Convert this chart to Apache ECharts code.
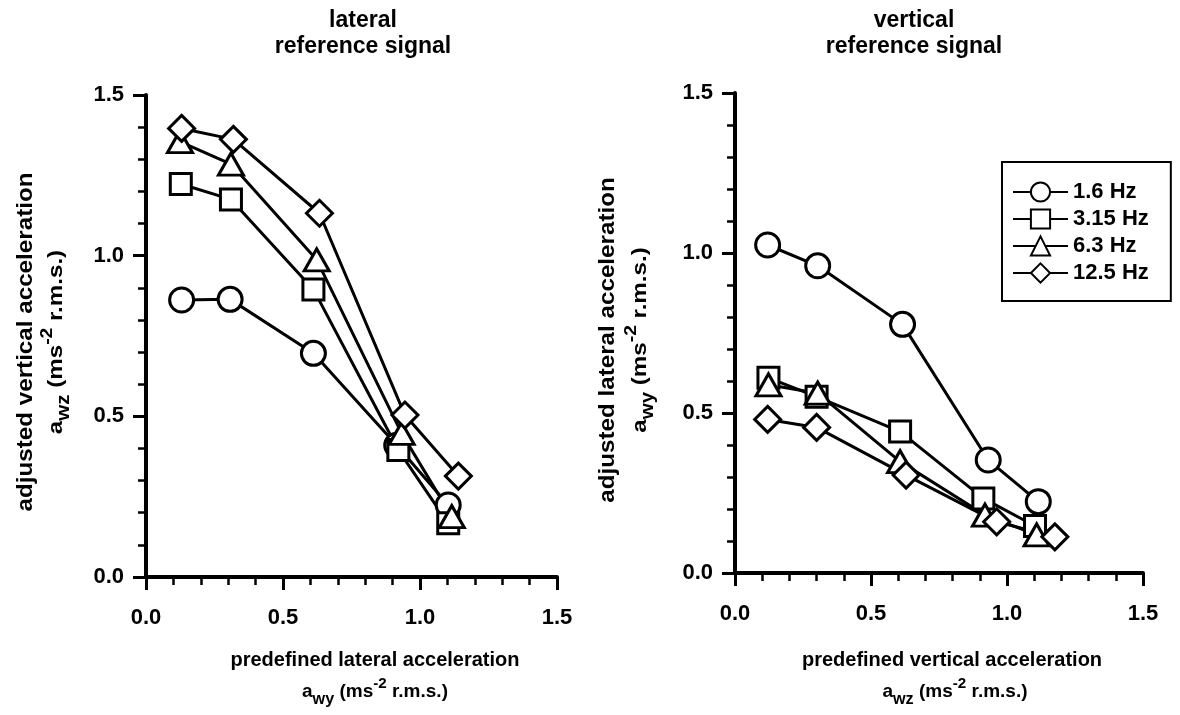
<!DOCTYPE html>
<html>
<head>
<meta charset="utf-8">
<script src="https://cdn.jsdelivr.net/npm/echarts@6/dist/echarts.min.js"></script>
<style>
  html, body { margin: 0; padding: 0; background: #fff; }
  #main { width: 1180px; height: 715px; }
</style>
</head>
<body>
<div id="main"></div>
<script>
// frequencies of the reference signal
var freqs = ['1.6 Hz', '3.15 Hz', '6.3 Hz', '12.5 Hz']
var symbols = ['circle', 'rect', 'triangle', 'diamond']
var symbolSizes = [24, 21, [25, 22], 26]
var axisTicks = [0, 0.5, 1.0, 1.5]

// lateral reference signal (left panel): predefined a_wy vs adjusted a_wz
var latX16 = [0.13, 0.307, 0.611, 0.915, 1.103]
var latY16 = [0.862, 0.864, 0.696, 0.41, 0.224]
var latX315 = [0.127, 0.31, 0.611, 0.921, 1.103]
var latY315 = [1.223, 1.175, 0.895, 0.395, 0.167]
var latX63 = [0.124, 0.31, 0.623, 0.933, 1.116]
var latY63 = [1.355, 1.285, 0.987, 0.447, 0.188]
var latX125 = [0.13, 0.319, 0.633, 0.945, 1.14]
var latY125 = [1.396, 1.362, 1.132, 0.504, 0.314]

// vertical reference signal (right panel): predefined a_wz vs adjusted a_wy
var verX16 = [0.12, 0.304, 0.616, 0.931, 1.115]
var verY16 = [1.025, 0.96, 0.777, 0.353, 0.223]
var verX315 = [0.123, 0.30, 0.607, 0.913, 1.103]
var verY315 = [0.61, 0.551, 0.442, 0.233, 0.147]
var verX63 = [0.123, 0.304, 0.607, 0.919, 1.109]
var verY63 = [0.588, 0.562, 0.348, 0.181, 0.119]
var verX125 = [0.12, 0.30, 0.629, 0.962, 1.176]
var verY125 = [0.48, 0.455, 0.306, 0.16, 0.113]

var font = '"Liberation Sans", Arial, Helvetica, sans-serif'

function pairs (xs, ys) {
  return xs.map(function (x, i) { return [x, ys[i]] })
}

function makeAxis (idx, isX) {
  return {
    type: 'value',
    gridIndex: idx,
    min: axisTicks[0],
    max: axisTicks[axisTicks.length - 1],
    interval: 0.5,
    axisLine: { show: true, onZero: false, lineStyle: { color: '#000', width: 4 } },
    axisTick: { show: true, inside: false, length: 13, lineStyle: { color: '#000', width: 3 } },
    minorTick: { show: true, splitNumber: 5, length: 8, lineStyle: { color: '#000', width: 2.5 } },
    splitLine: { show: false },
    axisLabel: {
      color: '#000',
      fontFamily: font,
      fontWeight: 'bold',
      fontSize: 22,
      margin: isX ? 30 : 22,
      formatter: function (v) { return v.toFixed(1) }
    }
  }
}

function makeSeries (name, k, data, idx) {
  return {
    name: name,
    type: 'line',
    xAxisIndex: idx,
    yAxisIndex: idx,
    data: data,
    symbol: symbols[k],
    symbolSize: symbolSizes[k],
    showAllSymbol: true,
    lineStyle: { color: '#000', width: 3 },
    itemStyle: { color: '#fff', borderColor: '#000', borderWidth: 3 },
    emphasis: { disabled: true }
  }
}

var latData = [pairs(latX16, latY16), pairs(latX315, latY315), pairs(latX63, latY63), pairs(latX125, latY125)]
var verData = [pairs(verX16, verY16), pairs(verX315, verY315), pairs(verX63, verY63), pairs(verX125, verY125)]

var series = []
freqs.forEach(function (f, k) { series.push(makeSeries(f, k, latData[k], 0)) })
freqs.forEach(function (f, k) { series.push(makeSeries(f, k, verData[k], 1)) })

function richUnits (size) {
  return {
    n: { fontFamily: font, fontWeight: 'bold', fontSize: size, lineHeight: size * 1.6, fill: '#000' },
    sub: { fontFamily: font, fontWeight: 'bold', fontSize: size * 0.85, verticalAlign: 'bottom', fill: '#000' },
    sup: { fontFamily: font, fontWeight: 'bold', fontSize: size * 0.8, verticalAlign: 'top', fill: '#000' }
  }
}

function titleText (x, y, txt) {
  return {
    type: 'text', x: x, y: y,
    style: { text: txt, font: 'bold 23px ' + font, fill: '#000', align: 'center', verticalAlign: 'middle', lineHeight: 26 }
  }
}

function plainText (x, y, txt, size, rot, stretch) {
  return {
    type: 'text', x: x, y: y, rotation: rot || 0, scaleX: stretch || 1,
    style: { text: txt, font: 'bold ' + size + 'px ' + font, fill: '#000', align: 'center', verticalAlign: 'middle' }
  }
}

function unitText (x, y, sub, size, rot, stretch) {
  return {
    type: 'text', x: x, y: y, rotation: rot || 0, scaleX: stretch || 1,
    style: {
      text: '{n|a}{sub|' + sub + '}{n| (ms}{sup|-2}{n| r.m.s.)}',
      rich: richUnits(size), align: 'center', verticalAlign: 'middle', fill: '#000'
    }
  }
}

var myChart = echarts.init(document.getElementById('main'), null, { renderer: 'canvas' })

myChart.setOption({
  animation: false,
  backgroundColor: '#fff',
  grid: [
    { left: 146, top: 95, width: 411, height: 482 },
    { left: 735, top: 93, width: 408, height: 480 }
  ],
  xAxis: [makeAxis(0, true), makeAxis(1, true)],
  yAxis: [makeAxis(0, false), makeAxis(1, false)],
  legend: {
    orient: 'vertical',
    left: 1002,
    top: 162,
    data: freqs,
    backgroundColor: '#fff',
    borderColor: '#000',
    borderWidth: 2,
    borderRadius: 0,
    padding: [19, 22, 17, 10],
    itemGap: 5,
    itemWidth: 55,
    itemHeight: 24,
    textStyle: { color: '#000', fontFamily: font, fontWeight: 'bold', fontSize: 22 }
  },
  graphic: [
    titleText(363, 34, 'lateral\nreference signal'),
    titleText(914, 34, 'vertical\nreference signal'),
    plainText(375, 660, 'predefined lateral acceleration', 20),
    unitText(375, 692, 'wy', 19),
    plainText(952, 660, 'predefined vertical acceleration', 20),
    unitText(955, 692, 'wz', 19),
    plainText(26, 342, 'adjusted vertical acceleration', 22, Math.PI / 2, 1.1),
    unitText(56, 342, 'wz', 21, Math.PI / 2, 1.15),
    plainText(608, 340, 'adjusted lateral acceleration', 22, Math.PI / 2, 1.1),
    unitText(640, 340, 'wy', 21, Math.PI / 2, 1.15)
  ],
  series: series
})
</script>
</body>
</html>
